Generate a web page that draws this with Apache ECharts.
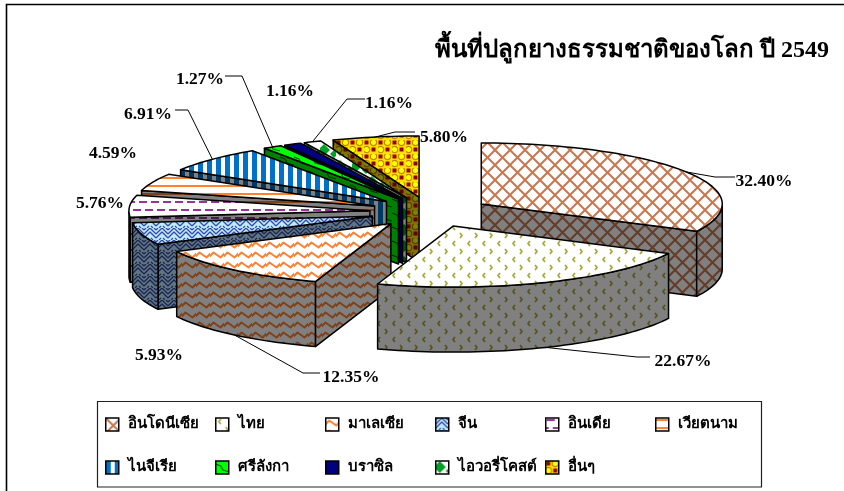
<!DOCTYPE html>
<html><head><meta charset="utf-8">
<style>html,body{margin:0;padding:0;background:#fff}#c{width:844px;height:491px}</style>
<script src="https://cdn.jsdelivr.net/npm/echarts@6/dist/echarts.min.js"></script>
</head><body><div id="c"></div>
<script>
const titleText = 'พื้นที่ปลูกยางธรรมชาติของโลก ปี 2549';
const categories = ['อินโดนีเซีย','ไทย','มาเลเซีย','จีน','อินเดีย','เวียตนาม','ไนจีเรีย','ศรีลังกา','บราซิล','ไอวอรี่โคสต์','อื่นๆ'];
const shares = [32.40,22.67,12.35,5.93,5.76,4.59,6.91,1.27,1.16,1.16,5.80];
const labelAnchors = [[764,181],[683,361],[351,377],[159,355],[100,203],[113,153],[148,114],[200,79],[290,91],[389,103],[444,137]];
const leaderKnees = [[[735,177],[715,177]],[[650,357],[637,357]],[[320,373],[303,373]],null,null,null,[[175,110],[188,110]],[[225,76],[242,76]],null,[[365,99],[347,99]],[[415,132],[395,132]]];
const FONT = '"Liberation Serif","Noto Sans CJK SC",serif';
const CX=430, CY=212, RX=241, RY=61, DEPTH=65, EXPLODE=0.25;

function tile(w,h,bg,draw){const c=document.createElement('canvas');c.width=w;c.height=h;const x=c.getContext('2d');x.fillStyle=bg;x.fillRect(0,0,w,h);x.lineJoin='round';draw(x);return {image:c,repeat:'repeat'};}
function seg(x,pts,col,lw){x.strokeStyle=col;x.lineWidth=lw;x.beginPath();pts.forEach((p,i)=>i?x.lineTo(p[0],p[1]):x.moveTo(p[0],p[1]));x.stroke();}
const painters = [
 (bg,fg)=>tile(15,15,bg,x=>{seg(x,[[0,0],[15,15]],fg,2);seg(x,[[15,0],[0,15]],fg,2);seg(x,[[-1,14],[1,16]],fg,2);seg(x,[[14,-1],[16,1]],fg,2);}),
 (bg,fg)=>tile(15,16,bg,x=>{seg(x,[[5,1],[3,3.5],[5,6]],fg,1.8);seg(x,[[10,9],[12,11.5],[10,14]],fg,1.8);}),
 (bg,fg)=>tile(14,10,bg,x=>{seg(x,[[-1,7],[3.5,2.5],[10.5,7.5],[15,3]],fg,2);}),
 (bg,fg)=>tile(12,12,bg,x=>{seg(x,[[0,6],[6,0],[12,6]],fg,1.3);seg(x,[[0,10],[6,4],[12,10]],fg,1.3);seg(x,[[0,2],[2,0]],fg,1.3);seg(x,[[12,2],[10,0]],fg,1.3);seg(x,[[3,12],[5,10]],fg,1.1);seg(x,[[9,12],[7,10]],fg,1.1);}),
 (bg,fg)=>tile(24,16,bg,x=>{x.fillStyle=fg;x.fillRect(1,1,8,2);x.fillRect(13,1,8,2);x.fillRect(7,9,8,2);x.fillRect(19,9,5,2);x.fillRect(0,9,3,2);}),
 (bg,fg)=>tile(8,8,bg,x=>{x.fillStyle=fg;x.fillRect(0,1,8,2);}),
 (bg,fg)=>tile(9,8,bg,x=>{x.fillStyle=fg;x.fillRect(0,0,5,8);}),
 (bg,fg)=>tile(14,14,bg,x=>{seg(x,[[0,3],[5,5],[7,9],[14,11]],fg,1.2);}),
 (bg,fg)=>tile(8,8,bg,x=>{}),
 (bg,fg)=>tile(16,16,bg,x=>{x.fillStyle=fg;x.beginPath();x.moveTo(4,0);x.lineTo(10,6);x.lineTo(4,12);x.lineTo(-2,6);x.fill();x.beginPath();x.moveTo(14,6);x.lineTo(18,10);x.lineTo(14,14);x.lineTo(10,10);x.fill();}),
 (bg,fg)=>tile(14,14,bg,x=>{const lit=bg==='#FFE000';
   x.fillStyle=fg;x.fillRect(0.5,0.5,4,4);x.fillRect(7.5,7.5,4,4);
   x.strokeStyle=lit?'#C08800':'#504000';x.lineWidth=1.2;
   x.fillStyle=lit?'#FFFF00':'#808000';x.beginPath();x.arc(9.5,2.5,3.2,0,7);x.fill();x.stroke();x.beginPath();x.arc(2.5,9.5,3.2,0,7);x.fill();x.stroke();})
];
const topColors = [['#FFFFFF','#C87850'],['#FFFFFF','#A8A838'],['#FFFFFF','#FF8030'],['#BDEBFF','#3848A8'],['#FFFFFF','#993399'],['#FFFFFF','#FF8030'],['#FFFFFF','#0070C8'],['#00FF00','#006000'],['#000080','#000080'],['#FFFFFF','#00A020'],['#FFE000','#990000']];
const dark = h=>{const n=parseInt(h.slice(1),16);const v=[n>>16,(n>>8)&255,n&255].map(a=>Math.round(a*.5));return '#'+v.map(a=>a.toString(16).padStart(2,'0')).join('');};
const topFill = topColors.map((c,i)=>painters[i](c[0],c[1]));
const sideFill = topColors.map((c,i)=>i===10?painters[i](dark(c[0]),'#600000'):painters[i](dark(c[0]),dark(c[1])));

const total = shares.reduce((a,b)=>a+b,0);
let run=0;
const spans = shares.map(v=>{const s=run/total*Math.PI*2;run+=v;return [s,run/total*Math.PI*2];});
const apexes = spans.map(([a,b])=>{const m=(a+b)/2;return [CX+EXPLODE*RX*Math.sin(m),CY-EXPLODE*RY*Math.cos(m)];});
const rim=(i,t)=>[apexes[i][0]+RX*Math.sin(t),apexes[i][1]-RY*Math.cos(t)];
const down=p=>[p[0],p[1]+DEPTH];
const EDGE={stroke:'#000',lineWidth:1.5,lineJoin:'round'};
function poly(points,fill){return {type:'polygon',shape:{points},style:Object.assign({fill},EDGE),silent:true};}

function renderSlice(i){
  const [a,b]=spans[i], A=apexes[i], kids=[], arc=[];
  const steps=Math.max(3,Math.ceil((b-a)/0.03));
  for(let k=0;k<=steps;k++)arc.push(a+(b-a)*k/steps);
  const S=rim(i,a),E=rim(i,b);
  if(E[0]>A[0])kids.push(poly([E,A,down(A),down(E)],sideFill[i]));
  if(S[0]<A[0])kids.push(poly([A,S,down(S),down(A)],sideFill[i]));
  const front=arc.filter(t=>t>=Math.PI/2&&t<=Math.PI*1.5);
  if(front.length>1){const up=front.map(t=>rim(i,t));kids.push(poly(up.concat(up.slice().reverse().map(down)),sideFill[i]));}
  kids.push(poly([A].concat(arc.map(t=>rim(i,t))),topFill[i]));
  const z=apexes.map(p=>p[1]).slice().sort((p,q)=>p-q).indexOf(A[1]);
  kids.forEach(k=>{k.z2=z;});
  const m=(a+b)/2;
  const hit=rim(i,m);
  if(m>Math.PI/2&&m<Math.PI*1.5)hit[1]+=DEPTH;
  if(leaderKnees[i])kids.push({type:'polyline',z2:30,silent:true,shape:{points:leaderKnees[i].concat([hit])},style:{stroke:'#000',lineWidth:1,fill:null}});
  kids.push({type:'text',z2:31,silent:true,style:{x:labelAnchors[i][0],y:labelAnchors[i][1],text:shares[i].toFixed(2)+'%',align:'center',verticalAlign:'middle',font:'bold 17.5px '+FONT,fill:'#000'}});
  return {type:'group',children:kids};
}

const legendRich={a:{padding:[0,0,0,4],fontFamily:FONT,fontSize:15,fontWeight:'bold',color:'#000'}};
const chart=echarts.init(document.getElementById('c'),null,{renderer:'canvas'});
chart.setOption({
  animation:false,
  backgroundColor:'#fff',
  title:{text:titleText,left:435,top:39,padding:0,textStyle:{fontFamily:FONT,fontWeight:'bold',fontSize:24,color:'#000'}},
  legend:categories.map((name,i)=>({
    left:105+110*(i%6),top:417+43*Math.floor(i/6),padding:0,itemWidth:13,itemHeight:13,icon:'rect',
    selectedMode:false,
    itemStyle:{borderColor:'#000',borderWidth:1.5},
    formatter:n=>'{a|'+n+'}',
    textStyle:{fontFamily:FONT,fontSize:15,fontWeight:'bold',color:'#000',rich:legendRich},
    data:[name]})),
  graphic:[
    {type:'polyline',shape:{points:[[6.5,491],[6.5,4.5],[844,4.5]]},style:{stroke:'#000',lineWidth:1.6,fill:null},silent:true},
    {type:'rect',z:-1,shape:{x:97.5,y:401.5,width:664,height:85.5},style:{stroke:'#222',lineWidth:1.2,fill:'#fff'},silent:true}
  ],
  series:categories.map((name,i)=>({
    type:'custom',name,coordinateSystem:'none',clip:false,silent:true,
    itemStyle:{color:topFill[i]},
    data:[{value:shares[i],name}],
    renderItem:()=>renderSlice(i)
  }))
});
</script></body></html>
